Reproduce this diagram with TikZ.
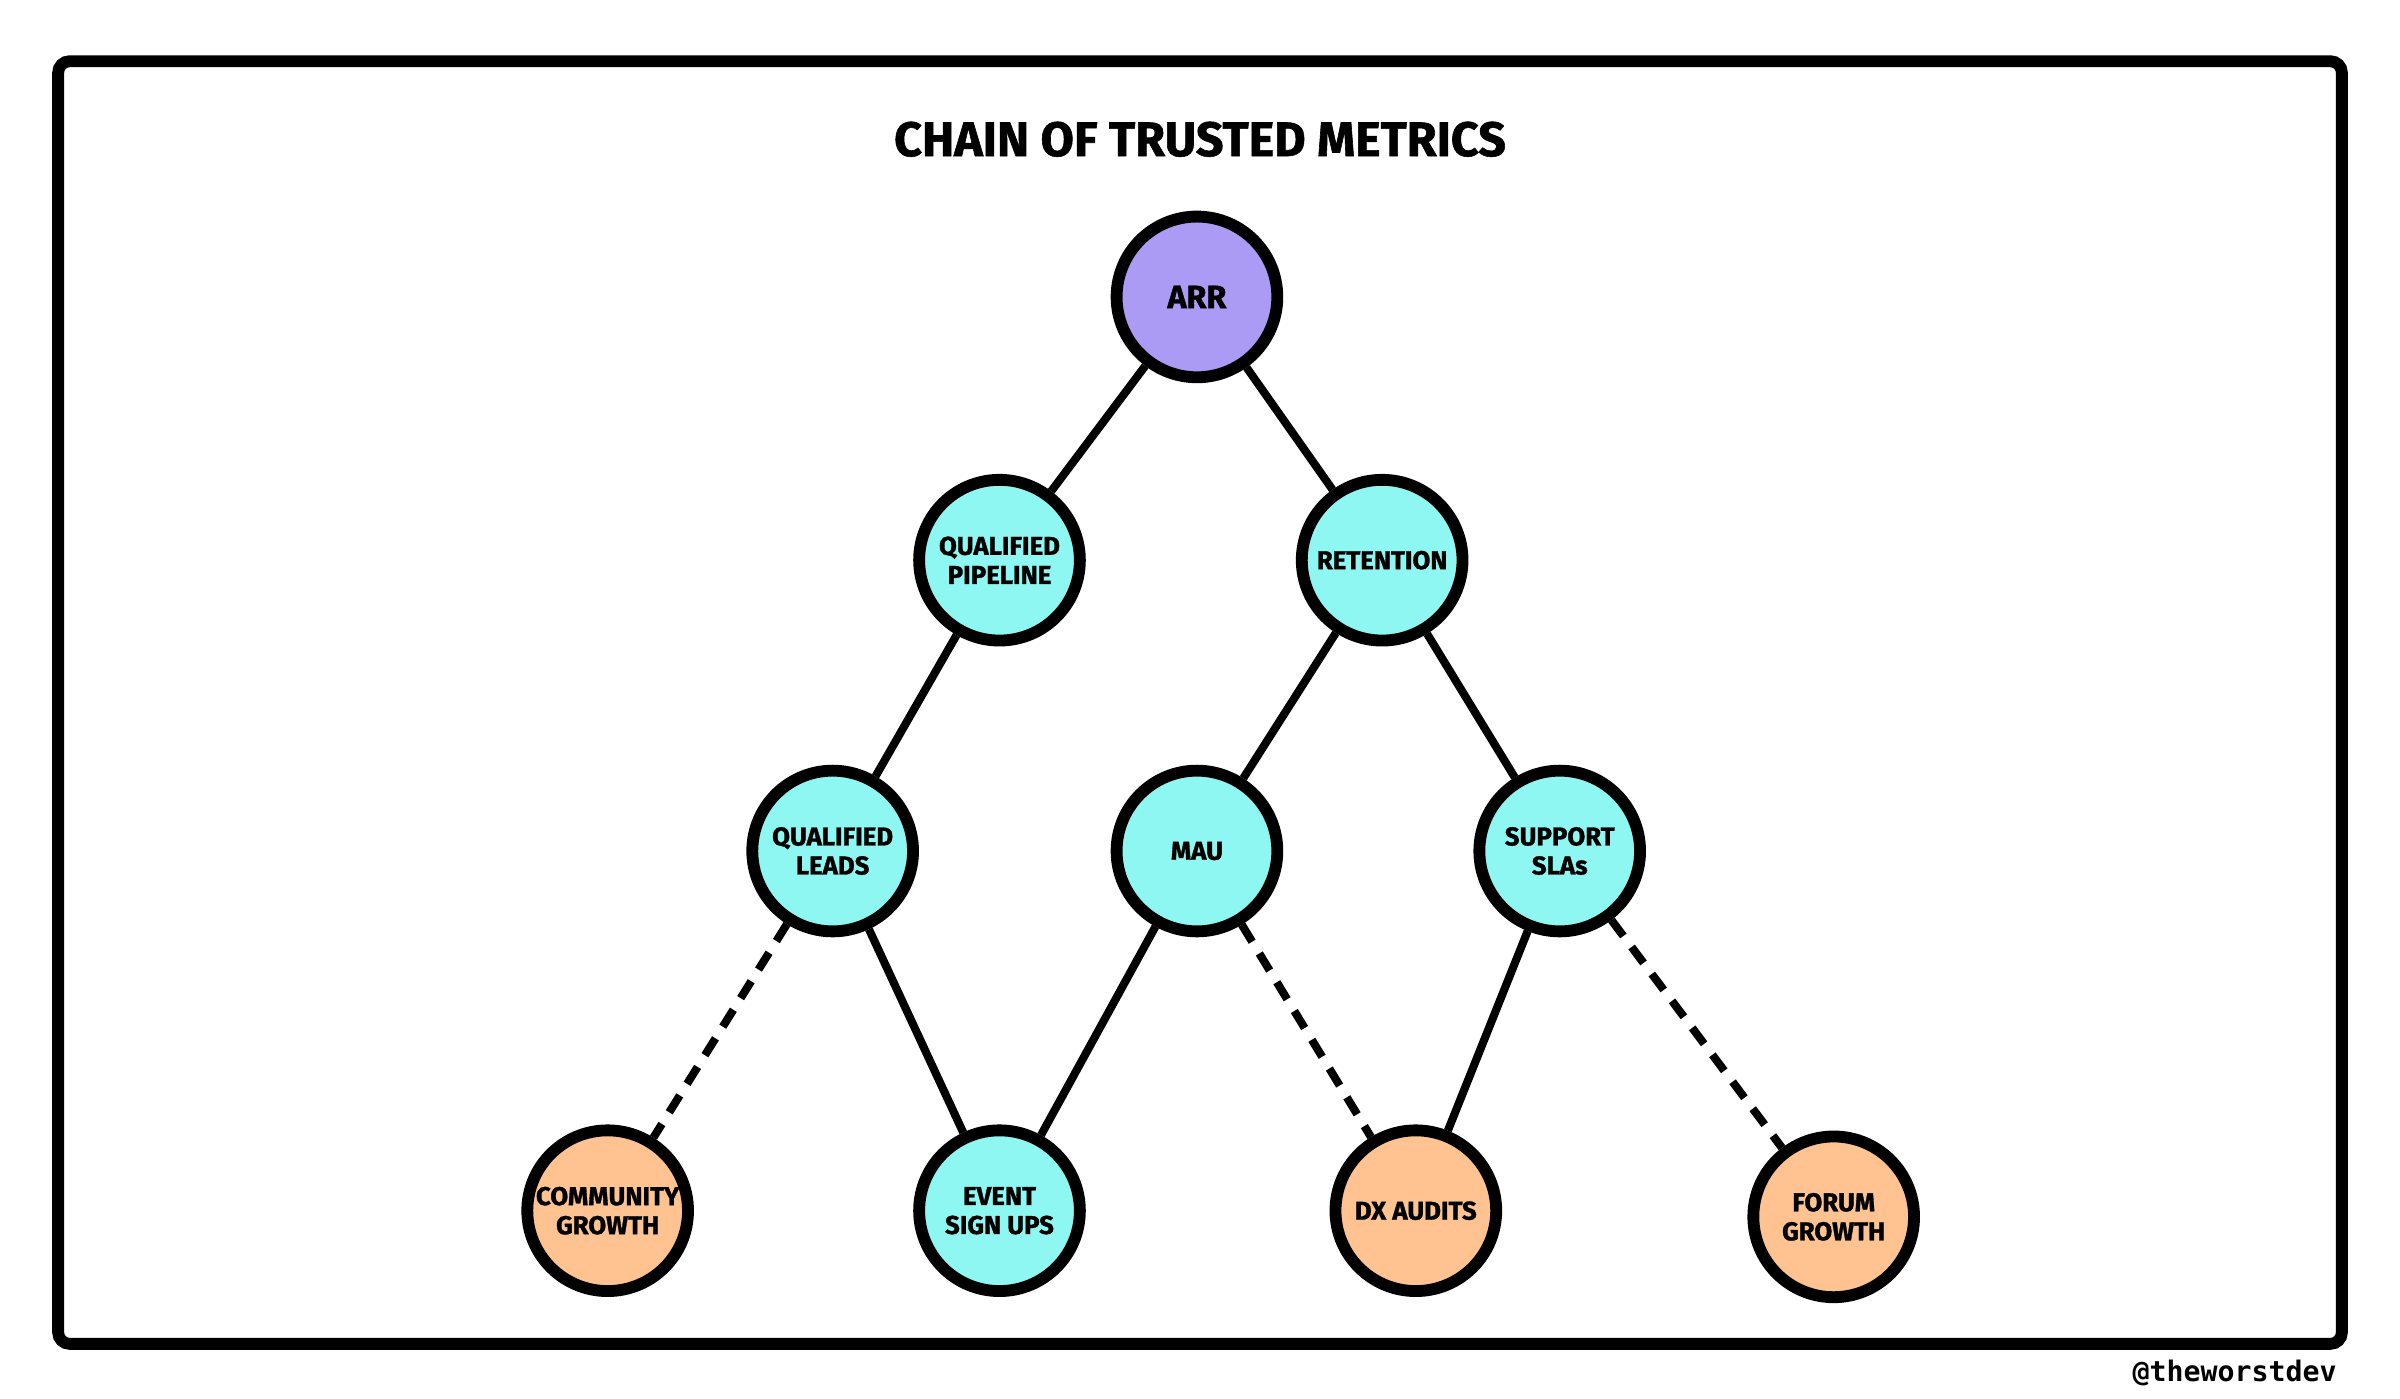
\documentclass[tikz,border=0pt]{standalone}
\usepackage{fontspec}
\setmainfont{Fira Sans}[BoldFeatures={FakeBold=1.2}]
\newfontfamily\signfont{DejaVu Sans Mono}
\usepackage{xcolor}
\usetikzlibrary{positioning}
\definecolor{arrpurple}{HTML}{AC9BF4}
\definecolor{metriccyan}{HTML}{8FF7F1}
\definecolor{inputorange}{HTML}{FFC392}
\tikzset{
  node distance=1.2cm,
  metric/.style={circle,draw=black,line width=4.4pt,fill=metriccyan,
    minimum size=2.1cm,inner sep=0pt,align=center,
    font=\bfseries\fontsize{9.6}{10.8}\selectfont},
  source/.style={metric,fill=inputorange}
}

\begin{document}
\begin{tikzpicture}
          \useasboundingbox (0,0) rectangle (31.36,18.27);
          \draw[line width=4.4pt,rounded corners=0.15cm] (0.76,0.71) rectangle (30.6,17.47);
          \node[font=\bfseries\fontsize{18}{21}\selectfont] (title) at (15.68,16.45) {CHAIN OF TRUSTED METRICS};
          \node[font=\signfont\bfseries\fontsize{10.5}{12}\selectfont,anchor=east,inner sep=0pt] (sign) at (30.54,0.33) {@theworstdev};

          \begin{scope}
              \node[metric,fill=arrpurple,font=\bfseries\fontsize{12}{13}\selectfont] (arr) at (15.64,14.39) {ARR};
              \node[metric] (pipe)  at (13.06,10.95) {QUALIFIED\\PIPELINE};
              \node[metric] (ret)   at (18.06,10.95) {RETENTION};

              \node[metric] (leads) at (10.88,7.15) {QUALIFIED\\LEADS};
              \node[metric] (mau)   at (15.64,7.15) {MAU};
              \node[metric] (sla)   at (20.38,7.15) {SUPPORT\\SLAs};

              \node[source] (comm)  at (7.94,2.45)  {COMMUNITY\\GROWTH};
              \node[metric] (event) at (13.06,2.45) {EVENT\\SIGN UPS};
              \node[source] (dx)    at (18.50,2.45) {DX AUDITS};
              \node[source] (forum) at (23.96,2.37) {FORUM\\GROWTH};
          \end{scope}

          \begin{scope}[every edge/.style={draw=black,line width=3pt}]
              \path (arr) edge (pipe);
              \path (arr) edge (ret);
              \path (pipe) edge (leads);
              \path (ret) edge (mau);
              \path (ret) edge (sla);

              \path (leads) edge (event);
              \path (mau) edge (event);
              \path (sla) edge (dx);

              % dashed: weaker links
              \path (leads) edge[dash pattern=on 0.26cm off 0.18cm] (comm);
              \path (mau) edge[dash pattern=on 0.26cm off 0.18cm] (dx);
              \path (sla) edge[dash pattern=on 0.26cm off 0.18cm] (forum);
          \end{scope}
\end{tikzpicture}
\end{document}
